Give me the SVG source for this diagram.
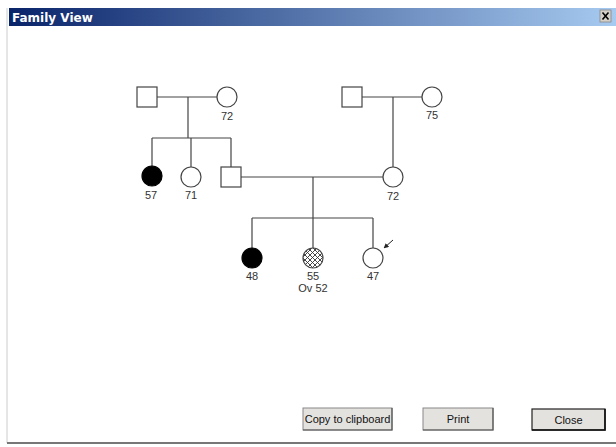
<svg xmlns="http://www.w3.org/2000/svg" width="616" height="447" viewBox="0 0 616 447">
<defs>
<linearGradient id="tb" x1="0" y1="0" x2="1" y2="0">
<stop offset="0" stop-color="#0a246a"/>
<stop offset="1" stop-color="#a6caf0"/>
</linearGradient>
<pattern id="hatch" width="5" height="5" patternUnits="userSpaceOnUse">
<rect width="5" height="5" fill="#fff"/>
<path d="M0,0 L5,5 M5,0 L0,5" stroke="#333" stroke-width="0.9"/>
</pattern>
<marker id="ah" viewBox="0 0 10 10" refX="9" refY="5" markerWidth="5" markerHeight="5" orient="auto">
<path d="M0,0 L10,5 L0,10 z" fill="#222"/>
</marker>
<style>
.sym{fill:#fff;stroke:#444;stroke-width:1.2}
.aff{fill:#000;stroke:#000;stroke-width:1.2}
.ln{stroke:#444;stroke-width:1.2;fill:none}
.lbl{font-family:"Liberation Sans",Arial,sans-serif;font-size:11px;fill:#333;text-anchor:middle}
.btn{fill:#e4e2de;stroke:#888;stroke-width:1}
.btxt{font-family:"Liberation Sans",Arial,sans-serif;font-size:11px;fill:#111;text-anchor:middle}
</style>
</defs>
<rect width="616" height="447" fill="#fff"/>
<line x1="7" y1="8" x2="7" y2="443" stroke="#ccc" stroke-width="1"/>
<rect x="9" y="8" width="607" height="18" fill="url(#tb)"/>
<text x="12" y="22" font-family="Verdana,'DejaVu Sans',sans-serif" font-size="12" font-weight="bold" fill="#fff">Family View</text>
<g id="closex">
<rect x="600" y="10" width="11" height="12" fill="#d4d0c8" stroke="#888" stroke-width="0.8"/>
<path d="M602.5,12.5 L608.5,19.5 M608.5,12.5 L602.5,19.5" stroke="#000" stroke-width="1.6"/>
</g>
<g id="connectors">
<path class="ln" d="M157,97 H217"/>
<path class="ln" d="M188,97 V138"/>
<path class="ln" d="M152,138 H231"/>
<path class="ln" d="M152,138 V166"/>
<path class="ln" d="M191,138 V167"/>
<path class="ln" d="M231,138 V167"/>
<path class="ln" d="M362,97 H422"/>
<path class="ln" d="M393,97 V167"/>
<path class="ln" d="M241,177 H383"/>
<path class="ln" d="M313,177 V218"/>
<path class="ln" d="M252,218 H373"/>
<path class="ln" d="M252,218 V248"/>
<path class="ln" d="M313,218 V248"/>
<path class="ln" d="M373,218 V248"/>
<path d="M393,240 L384,248" stroke="#222" stroke-width="1" marker-end="url(#ah)"/>
</g>
<g id="n1"><rect class="sym" x="137" y="87" width="20" height="20"/></g>
<g id="n2"><circle class="sym" cx="227" cy="97" r="10"/><text class="lbl" x="227" y="120">72</text></g>
<g id="n3"><rect class="sym" x="342" y="87" width="20" height="20"/></g>
<g id="n4"><circle class="sym" cx="432" cy="97" r="10"/><text class="lbl" x="432" y="119">75</text></g>
<g id="n5"><circle class="aff" cx="152" cy="176" r="10"/><text class="lbl" x="151" y="199">57</text></g>
<g id="n6"><circle class="sym" cx="191" cy="177" r="10"/><text class="lbl" x="191" y="199">71</text></g>
<g id="n7"><rect class="sym" x="221" y="167" width="20" height="20"/></g>
<g id="n8"><circle class="sym" cx="393" cy="177" r="10"/><text class="lbl" x="393" y="200">72</text></g>
<g id="n9"><circle class="aff" cx="252" cy="258" r="10"/><text class="lbl" x="252" y="280">48</text></g>
<g id="n10"><circle cx="313" cy="258" r="10" fill="url(#hatch)" stroke="#444" stroke-width="1.2"/><text class="lbl" x="313" y="280">55</text><text class="lbl" x="313" y="292">Ov 52</text></g>
<g id="n11"><circle class="sym" cx="373" cy="258" r="10"/><text class="lbl" x="373" y="280">47</text></g>
<g id="b1"><rect class="btn" x="303" y="408" width="89" height="22"/><path d="M392,408 V430 H303" stroke="#555" stroke-width="1.2" fill="none"/><text class="btxt" x="347.5" y="423">Copy to clipboard</text></g>
<g id="b2"><rect class="btn" x="423" y="408" width="70" height="22"/><path d="M493,408 V430 H423" stroke="#555" stroke-width="1.2" fill="none"/><text class="btxt" x="458" y="423">Print</text></g>
<g id="b3"><rect x="532" y="409" width="73" height="21" fill="#e4e2de" stroke="#222" stroke-width="1.2"/><path d="M605,409 V430 H532" stroke="#111" stroke-width="1.6" fill="none"/><text class="btxt" x="568.5" y="424">Close</text></g>
<line x1="7" y1="443" x2="616" y2="443" stroke="#777" stroke-width="2"/>
</svg>
